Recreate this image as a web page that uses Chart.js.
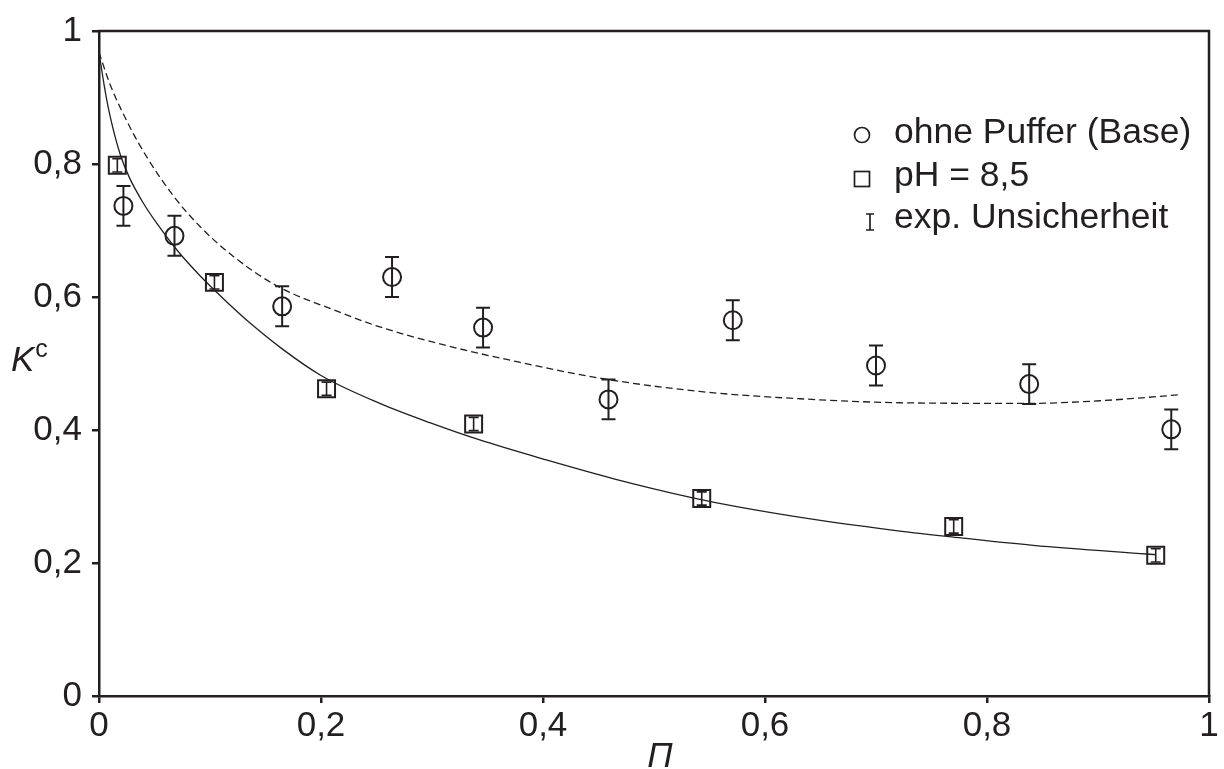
<!DOCTYPE html>
<html>
<head>
<meta charset="utf-8">
<script src="https://cdn.jsdelivr.net/npm/chart.js@4.4.1/dist/chart.umd.min.js"></script>
<style>
  html, body { margin: 0; padding: 0; background: #ffffff; }
  #wrap { width: 1224px; height: 769px; }
</style>
</head>
<body>
<div id="wrap"><canvas id="chart" width="1224" height="769"></canvas></div>
<script>
// Messwerte: ohne Puffer (Base)
const basePi  = [0.022, 0.068, 0.165, 0.264, 0.346, 0.459, 0.571, 0.700, 0.838, 0.966];
const baseK   = [0.737, 0.692, 0.586, 0.630, 0.554, 0.446, 0.565, 0.497, 0.469, 0.401];
const baseErr = [0.03, 0.03, 0.03, 0.03, 0.03, 0.03, 0.03, 0.03, 0.03, 0.03];

// Messwerte: pH = 8,5
const phPi  = [0.0165, 0.104, 0.205, 0.3375, 0.543, 0.770, 0.952];
const phK   = [0.798, 0.622, 0.462, 0.409, 0.297, 0.255, 0.2115];
const phErr = [0.01, 0.01, 0.01, 0.01, 0.01, 0.01, 0.01];

// Anpassungskurve pH = 8,5 (durchgezogen)
const fitPhPi = [0, 0.005, 0.010, 0.019, 0.027, 0.040, 0.052, 0.0715, 0.091, 0.103, 0.118, 0.1345,
                 0.165, 0.2, 0.253, 0.298, 0.343, 0.403, 0.463, 0.535, 0.577, 0.65, 0.7216, 0.7637,
                 0.8417, 0.9438, 0.952];
const fitPhK  = [0.968, 0.915, 0.872, 0.815, 0.781, 0.741, 0.711, 0.668, 0.632, 0.612, 0.588, 0.563,
                 0.522, 0.482, 0.440, 0.411, 0.385, 0.355, 0.327, 0.298, 0.284, 0.264, 0.248, 0.240,
                 0.2265, 0.2135, 0.2125];

// Anpassungskurve ohne Puffer (gestrichelt)
const fitBasePi = [0, 0.0099, 0.028, 0.044, 0.067, 0.091, 0.121, 0.160, 0.2156, 0.253, 0.313, 0.373,
                   0.451, 0.541, 0.6315, 0.7216, 0.8378, 0.9018, 0.974];
const fitBaseK  = [0.968, 0.920, 0.855, 0.808, 0.752, 0.706, 0.661, 0.617, 0.578, 0.555, 0.527, 0.504,
                   0.478, 0.458, 0.447, 0.441, 0.440, 0.444, 0.453];

// Achsenbeschriftung
const xTickValues = [0, 0.2, 0.4, 0.6, 0.8, 1];
const xTickLabels = ['0', '0,2', '0,4', '0,6', '0,8', '1'];
const yTickValues = [0, 0.2, 0.4, 0.6, 0.8, 1];
const yTickLabels = ['0', '0,2', '0,4', '0,6', '0,8', '1'];

const legendLabels = ['ohne Puffer (Base)', 'pH = 8,5', 'exp. Unsicherheit'];

const INK = '#231f20';
const FONT = '"Liberation Sans", Arial, Helvetica, sans-serif';

const zip = (xs, ys) => xs.map((x, i) => ({ x: x, y: ys[i] }));

// Fehlerbalken über die Skalen der Achsen zeichnen
const errorBars = {
  id: 'errorBars',
  afterDatasetsDraw(chart) {
    const ctx = chart.ctx, xs = chart.scales.x, ys = chart.scales.y;
    const draw = (px, py, err, half) => {
      px.forEach((v, i) => {
        const x = xs.getPixelForValue(v);
        const y1 = ys.getPixelForValue(py[i] + err[i]);
        const y2 = ys.getPixelForValue(py[i] - err[i]);
        ctx.beginPath();
        ctx.moveTo(x, y1); ctx.lineTo(x, y2);
        ctx.moveTo(x - half, y1); ctx.lineTo(x + half, y1);
        ctx.moveTo(x - half, y2); ctx.lineTo(x + half, y2);
        ctx.stroke();
      });
    };
    ctx.save();
    ctx.strokeStyle = INK;
    ctx.lineWidth = 2;
    draw(basePi, baseK, baseErr, 7);
    ctx.lineWidth = 1.6;
    draw(phPi, phK, phErr, 5);
    ctx.restore();
  }
};

// Rahmen oben/rechts, Achsentitel und Legende
const decor = {
  id: 'decor',
  afterDraw(chart) {
    const ctx = chart.ctx, a = chart.chartArea;
    ctx.save();
    ctx.strokeStyle = INK;
    ctx.lineWidth = 2.5;
    ctx.beginPath();
    ctx.moveTo(a.left - 1.25, a.top);
    ctx.lineTo(a.right, a.top);
    ctx.lineTo(a.right, a.bottom + 1.25);
    ctx.stroke();

    ctx.fillStyle = INK;
    ctx.textBaseline = 'alphabetic';
    // y-Achsentitel K^c
    ctx.font = 'italic 35px ' + FONT;
    ctx.textAlign = 'left';
    ctx.fillText('K', 11, 371);
    const kw = ctx.measureText('K').width;
    ctx.font = '25px ' + FONT;
    ctx.fillText('c', 11 + kw + 1, 357);
    // x-Achsentitel Π
    ctx.font = 'italic 35px ' + FONT;
    ctx.textAlign = 'center';
    ctx.fillText('\u03A0', 660, 767);

    // Legende
    ctx.font = '35.5px ' + FONT;
    ctx.textAlign = 'left';
    const tx = 894, rows = [143, 186, 228];
    rows.forEach((b, i) => ctx.fillText(legendLabels[i], tx, b));
    ctx.lineWidth = 1.7;
    ctx.beginPath();
    ctx.arc(862, 135, 7.5, 0, Math.PI * 2);
    ctx.stroke();
    ctx.strokeRect(854.5, 171.5, 15, 15);
    ctx.beginPath();
    ctx.moveTo(870, 214); ctx.lineTo(870, 230);
    ctx.moveTo(866, 214); ctx.lineTo(874, 214);
    ctx.moveTo(866, 230); ctx.lineTo(874, 230);
    ctx.stroke();
    ctx.restore();
  }
};

new Chart(document.getElementById('chart'), {
  type: 'scatter',
  data: {
    datasets: [
      {
        label: legendLabels[0],
        data: zip(basePi, baseK),
        pointStyle: 'circle',
        pointRadius: 9,
        pointBorderWidth: 2,
        pointBorderColor: INK,
        pointBackgroundColor: 'rgba(0,0,0,0)',
        showLine: false,
        clip: false
      },
      {
        label: legendLabels[1],
        data: zip(phPi, phK),
        pointStyle: 'rect',
        pointRadius: 12,
        pointBorderWidth: 2,
        pointBorderColor: INK,
        pointBackgroundColor: 'rgba(0,0,0,0)',
        showLine: false,
        clip: false
      },
      {
        label: 'fit pH',
        data: zip(fitPhPi, fitPhK),
        showLine: true,
        pointRadius: 0,
        borderColor: INK,
        borderWidth: 1.3,
        cubicInterpolationMode: 'monotone',
        fill: false
      },
      {
        label: 'fit base',
        data: zip(fitBasePi, fitBaseK),
        showLine: true,
        pointRadius: 0,
        borderColor: INK,
        borderWidth: 1.3,
        borderDash: [7, 4],
        cubicInterpolationMode: 'monotone',
        fill: false
      }
    ]
  },
  options: {
    responsive: false,
    animation: false,
    devicePixelRatio: 1,
    layout: { padding: { left: 0, right: 15, top: 24, bottom: 0 } },
    plugins: {
      legend: { display: false },
      tooltip: { enabled: false }
    },
    scales: {
      x: {
        type: 'linear',
        min: 0, max: 1,
        afterBuildTicks: s => { s.ticks = xTickValues.map(v => ({ value: v })); },
        afterFit: s => { s.height = 73; },
        ticks: {
          callback: (v, i) => xTickLabels[i],
          color: INK,
          font: { family: FONT, size: 35 },
          padding: 2,
          maxRotation: 0,
          autoSkip: false
        },
        grid: { drawOnChartArea: false, drawTicks: true, tickLength: 7, color: INK, lineWidth: 2.5 },
        border: { display: true, color: INK, width: 2.5 }
      },
      y: {
        type: 'linear',
        min: 0, max: 1,
        afterBuildTicks: s => { s.ticks = yTickValues.map(v => ({ value: v })); },
        afterFit: s => { s.width = 99; },
        ticks: {
          callback: (v, i) => yTickLabels[i],
          color: INK,
          font: { family: FONT, size: 35 },
          padding: 10,
          autoSkip: false
        },
        grid: { drawOnChartArea: false, drawTicks: true, tickLength: 7, color: INK, lineWidth: 2.5 },
        border: { display: true, color: INK, width: 2.5 }
      }
    }
  },
  plugins: [errorBars, decor]
});
</script>
</body>
</html>
